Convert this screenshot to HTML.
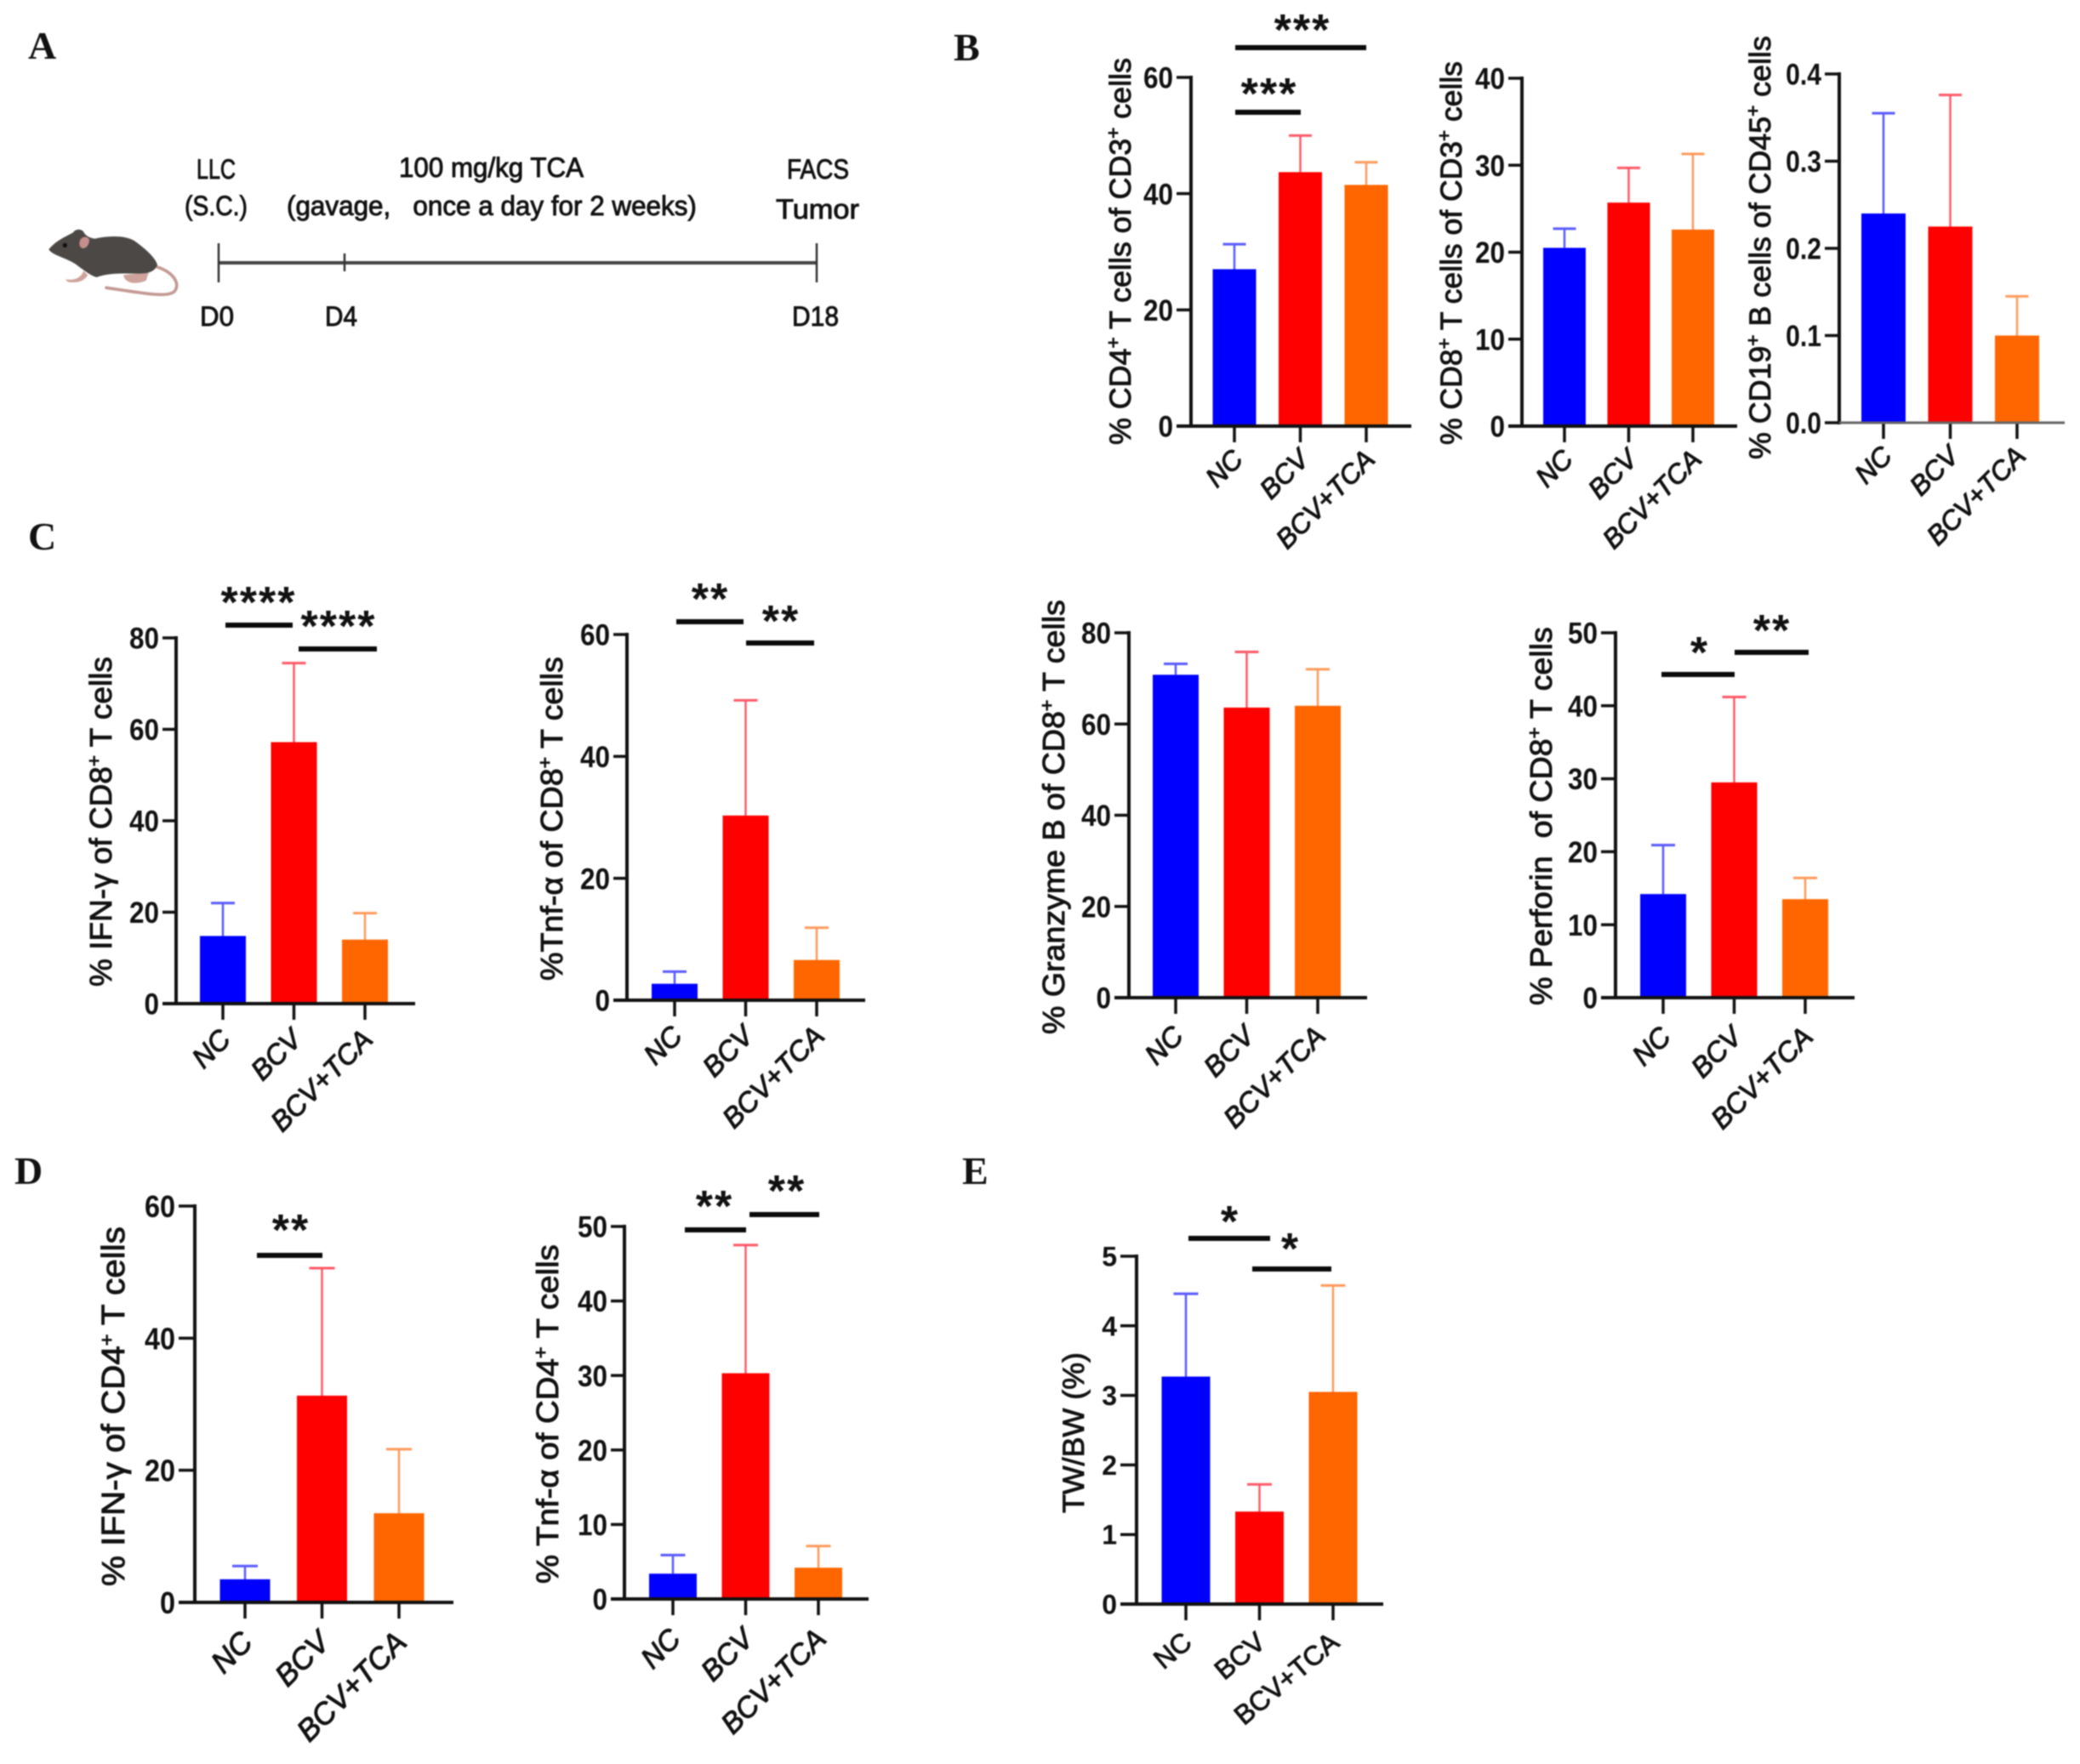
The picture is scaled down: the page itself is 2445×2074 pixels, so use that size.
<!DOCTYPE html>
<html lang="en">
<head>
<meta charset="utf-8">
<title>TCA treatment figure</title>
<style>
html,body{margin:0;padding:0;background:#fff;width:2445px;height:2074px;overflow:hidden}
svg{display:block;filter:blur(0.9px)}
text{font-family:"Liberation Sans",sans-serif;fill:#111;white-space:pre}
.letter{font-family:"Liberation Serif",serif;font-weight:700;font-size:46px}
.tl{font-size:32px;stroke:#111;stroke-width:.9px}
.tick{font-weight:700}
.ttl{stroke:#111;stroke-width:.9px}
.xl{font-style:italic;stroke:#111;stroke-width:1px}
.xlu{stroke:#111;stroke-width:.9px}
.star{font-weight:700;font-size:52px;letter-spacing:2px}
</style>
</head>
<body>
<svg id="fig" xmlns="http://www.w3.org/2000/svg" width="2445" height="2074" viewBox="0 0 2445 2074">
  <rect width="2445" height="2074" fill="#fff"/>
  <text class="letter" x="33" y="69">A</text>
  <text class="letter" x="1121" y="71">B</text>
  <text class="letter" x="33" y="646">C</text>
  <text class="letter" x="17" y="1392">D</text>
  <text class="letter" x="1131" y="1392">E</text>

  <g id="panel-a">
    <g transform="translate(30,240) scale(0.3333)">
      <path d="M465,222 C520,240 548,280 525,308 C500,332 400,312 285,295" fill="none" stroke="#c49a94" stroke-width="11" stroke-linecap="round"/>
      <path d="M205,235 C195,262 170,270 140,265 L150,275 C180,278 205,275 220,250 Z" fill="#cfa39b"/>
      <path d="M345,250 C350,280 390,285 425,270 L435,240 Z" fill="#cfa39b"/>
      <path d="M82,160 C105,130 140,115 168,100 C175,88 195,85 205,98 C210,110 225,120 245,122 C290,112 350,108 385,130 C420,155 460,190 465,215 C455,240 430,245 400,245 C350,245 300,240 250,258 C225,250 210,235 190,222 C155,190 100,185 82,160 Z" fill="#4b4846"/>
      <path d="M192,128 C200,112 218,112 225,125 C225,145 212,160 198,155 C190,150 188,140 192,128 Z" fill="#c48e8b"/>
      <circle cx="139" cy="145" r="8" fill="#111"/>
    </g>
    <text class="tl" id="a-llc" x="231" y="210" data-w="46">LLC</text>
    <text class="tl" id="a-sc" x="217" y="253" data-w="74">(S.C.)</text>
    <text class="tl" id="a-dose" x="469" y="208" data-w="217">100 mg/kg TCA</text>
    <text class="tl" id="a-gav" x="337" y="253" data-w="482">(gavage,   once a day for 2 weeks)</text>
    <text class="tl" id="a-facs" x="925" y="210" data-w="73">FACS</text>
    <text class="tl" id="a-tumor" x="912" y="257" data-w="98">Tumor</text>
    <text class="tl" id="a-d0" x="235" y="383" data-w="40">D0</text>
    <text class="tl" id="a-d4" x="382" y="383" data-w="38">D4</text>
    <text class="tl" id="a-d18" x="931" y="383" data-w="55">D18</text>
    <line x1="257" y1="309" x2="960" y2="309" stroke="#444" stroke-width="4"/>
    <line x1="257" y1="286" x2="257" y2="332" stroke="#333" stroke-width="2.5"/>
    <line x1="405" y1="298" x2="405" y2="319" stroke="#333" stroke-width="2.5"/>
    <line x1="960" y1="286" x2="960" y2="332" stroke="#333" stroke-width="2.5"/>
  </g>
</svg>
<script>
const categories = ['NC', 'BCV', 'BCV+TCA'];
const barColors = ['#0000ff', '#ff0000', '#ff6600'];
const errColors = ['#5a5aff', '#ff5a68', '#ff9a5c'];

const cd4Means = [27, 43.7, 41.5];
const cd4Tops = [31.3, 50, 45.4];
const cd4Ticks = ['0', '20', '40', '60'];

const cd8Means = [20.5, 25.7, 22.6];
const cd8Tops = [22.7, 29.7, 31.3];
const cd8Ticks = ['0', '10', '20', '30', '40'];

const cd19Means = [0.24, 0.225, 0.1];
const cd19Tops = [0.355, 0.376, 0.145];
const cd19Ticks = ['0.0', '0.1', '0.2', '0.3', '0.4'];

const ifnCd8Means = [14.8, 57.2, 14];
const ifnCd8Tops = [22, 74.5, 19.8];
const ifnCd8Ticks = ['0', '20', '40', '60', '80'];

const tnfCd8Means = [2.7, 30.3, 6.6];
const tnfCd8Tops = [4.7, 49.2, 11.9];
const tnfCd8Ticks = ['0', '20', '40', '60'];

const gzmbMeans = [70.8, 63.6, 64];
const gzmbTops = [73.2, 75.8, 72];
const gzmbTicks = ['0', '20', '40', '60', '80'];

const prfMeans = [14.2, 29.5, 13.5];
const prfTops = [20.9, 41.2, 16.4];
const prfTicks = ['0', '10', '20', '30', '40', '50'];

const ifnCd4Means = [3.5, 31.3, 13.5];
const ifnCd4Tops = [5.5, 50.6, 23.2];
const ifnCd4Ticks = ['0', '20', '40', '60'];

const tnfCd4Means = [3.4, 30.3, 4.2];
const tnfCd4Tops = [5.9, 47.5, 7.1];
const tnfCd4Ticks = ['0', '10', '20', '30', '40', '50'];

const twbwMeans = [3.27, 1.33, 3.05];
const twbwTops = [4.46, 1.72, 4.58];
const twbwTicks = ['0', '1', '2', '3', '4', '5'];

const NS = 'http://www.w3.org/2000/svg';
const fig = document.getElementById('fig');

function mk(tag, parent, attrs) {
  const el = document.createElementNS(NS, tag);
  for (const k in attrs) el.setAttribute(k, attrs[k]);
  parent.appendChild(el);
  return el;
}

function fitWidth(t, x, y, rot, target) {
  const len = t.getComputedTextLength();
  const sx = target / len;
  t.setAttribute('transform', 'translate(' + x + ',' + y + ') rotate(' + rot + ') scale(' + sx + ',1)');
}

function fillRich(t, s) {
  const parts = s.split('^');
  parts.forEach(function (p, i) {
    const sp = mk('tspan', t, {});
    if (i % 2 === 1) {
      sp.setAttribute('dy', '-13');
      sp.setAttribute('font-size', '22');
    } else if (i > 0) {
      sp.setAttribute('dy', '13');
    }
    sp.textContent = p;
  });
}

const charts = [
  {id: 'cd4-of-cd3', title: '% CD4^+^ T cells of CD3^+^ cells', tx: 1329, tfs: 35, tTop: 68, tBot: 523, ax: 1400, top: 91, zero: 501, xa: 1383, xb: 1659, x0: 1451, step: 77.5, w: 51, capW: 27,
   ldx: 12, ldy: 41, lfs: 32, tkfs: 35, tsx: .9, xw: 4, xc: '#111',
   means: cd4Means, tops: cd4Tops, ticks: cd4Ticks,
   sig: [[1452, 1606, 56], [1452, 1529, 132]], stars: [['***', 1531, 30], ['***', 1492, 105]]},
  {id: 'cd8-of-cd3', title: '% CD8^+^ T cells of CD3^+^ cells', tx: 1718, tfs: 35, tTop: 72, tBot: 523, ax: 1789, top: 92, zero: 501, xa: 1773, xb: 2042, x0: 1839, step: 75.5, w: 50, capW: 27,
   ldx: 12, ldy: 41, lfs: 32, tkfs: 35, tsx: .9, xw: 4, xc: '#111',
   means: cd8Means, tops: cd8Tops, ticks: cd8Ticks, sig: [], stars: []},
  {id: 'cd19-of-cd45', title: '% CD19^+^ B cells of CD45^+^ cells', tx: 2081, tfs: 35, tTop: 42, tBot: 540, ax: 2162, top: 87, zero: 497, xa: 2145, xb: 2427, x0: 2214, step: 78.5, w: 52, capW: 27,
   ldx: 12, ldy: 41, lfs: 32, tkfs: 35, tsx: .86, xw: 3, xc: '#666',
   means: cd19Means, tops: cd19Tops, ticks: cd19Ticks, sig: [], stars: []},
  {id: 'ifn-of-cd8', title: '% IFN-γ of CD8^+^ T cells', tx: 131, tfs: 36, tTop: 772, tBot: 1160, ax: 207, top: 750, zero: 1180, xa: 191, xb: 488, x0: 262, step: 83.5, w: 54, capW: 28,
   ldx: 11, ldy: 44, lfs: 33, tkfs: 35, tsx: .9, xw: 4, xc: '#111',
   means: ifnCd8Means, tops: ifnCd8Tops, ticks: ifnCd8Ticks,
   sig: [[265, 344, 735], [351, 443, 763]], stars: [['****', 304, 703], ['****', 398, 731]]},
  {id: 'tnf-of-cd8', title: '%Tnf-α of CD8^+^ T cells', tx: 661, tfs: 36, tTop: 772, tBot: 1153, ax: 737, top: 746, zero: 1176, xa: 721, xb: 1017, x0: 793, step: 83.5, w: 54, capW: 28,
   ldx: 11, ldy: 44, lfs: 33, tkfs: 35, tsx: .9, xw: 4, xc: '#111',
   means: tnfCd8Means, tops: tnfCd8Tops, ticks: tnfCd8Ticks,
   sig: [[795, 874, 731], [877, 957, 756]], stars: [['**', 835, 699], ['**', 918, 725]]},
  {id: 'granzyme-b', title: '% Granzyme B of CD8^+^ T cells', tx: 1251, tfs: 36, tTop: 705, tBot: 1216, ax: 1327, top: 744, zero: 1173, xa: 1310, xb: 1607, x0: 1382, step: 83.5, w: 54, capW: 28,
   ldx: 11, ldy: 47, lfs: 33, tkfs: 35, tsx: .9, xw: 4, xc: '#111',
   means: gzmbMeans, tops: gzmbTops, ticks: gzmbTicks, sig: [], stars: []},
  {id: 'perforin', title: '% Perforin  of CD8^+^ T cells', tx: 1824, tfs: 36, tTop: 737, tBot: 1182, ax: 1899, top: 744, zero: 1173, xa: 1882, xb: 2180, x0: 1955, step: 83.5, w: 54, capW: 28,
   ldx: 11, ldy: 48, lfs: 33, tkfs: 35, tsx: .9, xw: 4, xc: '#111',
   means: prfMeans, tops: prfTops, ticks: prfTicks,
   sig: [[1953, 2039, 793], [2039, 2126, 767]], stars: [['*', 1998, 762], ['**', 2083, 736]]},
  {id: 'ifn-of-cd4', title: '% IFN-γ of CD4^+^ T cells', tx: 146, tfs: 38, tTop: 1442, tBot: 1865, ax: 229, top: 1418, zero: 1884, xa: 210, xb: 533, x0: 288, step: 90.5, w: 59, capW: 30,
   ldx: 11, ldy: 49, lfs: 35.5, tkfs: 36, tsx: .9, xw: 4, xc: '#111',
   means: ifnCd4Means, tops: ifnCd4Tops, ticks: ifnCd4Ticks,
   sig: [[302, 379, 1476]], stars: [['**', 342, 1441]]},
  {id: 'tnf-of-cd4', title: '% Tnf-α of CD4^+^ T cells', tx: 656, tfs: 36, tTop: 1463, tBot: 1862, ax: 734, top: 1442, zero: 1880, xa: 718, xb: 1021, x0: 791, step: 85.5, w: 56, capW: 29,
   ldx: 11, ldy: 49, lfs: 34, tkfs: 35, tsx: .9, xw: 4, xc: '#111',
   means: tnfCd4Means, tops: tnfCd4Tops, ticks: tnfCd4Ticks,
   sig: [[805, 877, 1446], [881, 963, 1428]], stars: [['**', 840, 1413], ['**', 925, 1395]]},
  {id: 'tw-bw', title: 'TW/BW (%)', tx: 1274, tfs: 35, tTop: 1590, tBot: 1779, ax: 1336, top: 1477, zero: 1886, xa: 1317, xb: 1626, x0: 1394, step: 86.5, w: 57, capW: 29, upright: true,
   ldx: 9, ldy: 48, lfs: 32, tkfs: 32, tsx: 1, xw: 4, xc: '#111',
   means: twbwMeans, tops: twbwTops, ticks: twbwTicks,
   sig: [[1397, 1493, 1456], [1472, 1565, 1492]], stars: [['*', 1446, 1431], ['*', 1517, 1463]]}
];

function drawChart(c) {
  const max = parseFloat(c.ticks[c.ticks.length - 1]);
  const yScale = function (v) { return c.zero - (v / max) * (c.zero - c.top); };
  const xScale = function (i) { return c.x0 + i * c.step; };

  const g = mk('g', fig, {});
  
  

  c.means.forEach(function (m, i) {
    const cx = xScale(i);
    const stem = mk('line', g, {x1: cx, x2: cx, y1: yScale(m), y2: yScale(c.tops[i]), stroke: errColors[i], 'stroke-width': 2.5});
    
    
    const cap = mk('line', g, {x1: cx - c.capW / 2, x2: cx + c.capW / 2, y1: yScale(c.tops[i]), y2: yScale(c.tops[i]), stroke: errColors[i], 'stroke-width': 3});
    
    
    const bar = mk('rect', g, {x: cx - c.w / 2, y: yScale(m), width: c.w, height: c.zero - yScale(m), fill: barColors[i]});
    
    

    const tk = mk('line', g, {x1: cx, x2: cx, y1: c.zero, y2: c.zero + 19, stroke: '#111', 'stroke-width': 3.5});
    
    

    const lab = mk('text', g, {'class': c.upright ? 'xlu' : 'xl', 'text-anchor': 'end', 'font-size': c.lfs});
    lab.textContent = categories[i];
    
    
    lab.setAttribute('transform', 'translate(' + (cx + c.ldx) + ',' + (c.zero + c.ldy) + ') rotate(' + (c.upright ? -40 : -45) + ')');
  });

  const ya = mk('line', g, {x1: c.ax, x2: c.ax, y1: c.top - 2, y2: c.zero + 2, stroke: '#111', 'stroke-width': 4});
  
  
  const xa = mk('line', g, {x1: c.xa, x2: c.xb, y1: c.zero, y2: c.zero, stroke: c.xc, 'stroke-width': c.xw});
  
  

  c.ticks.forEach(function (t) {
    const y = yScale(parseFloat(t));
    const tk = mk('line', g, {x1: c.xa, x2: c.ax, y1: y, y2: y, stroke: '#111', 'stroke-width': 3.5});
    
    
    const lab = mk('text', g, {'class': 'tick', 'text-anchor': 'end', 'font-size': c.tkfs, transform: 'translate(' + (c.xa - 4) + ',' + (y + c.tkfs * 0.36) + ') scale(' + c.tsx + ',1)'});
    lab.textContent = t;
    
    
  });

  const title = mk('text', g, {'class': 'ttl', 'font-size': c.tfs});
  fillRich(title, c.title);
  
  
  fitWidth(title, c.tx, c.tBot, -90, c.tBot - c.tTop);

  c.sig.forEach(function (s) {
    const l = mk('rect', g, {x: s[0], width: s[1] - s[0], y: s[2] - 3, height: 6, fill: '#0a0a0a'});
    
    
  });
  c.stars.forEach(function (s) {
    const st = mk('text', g, {'class': 'star', 'text-anchor': 'middle', x: s[1], y: s[2] + 23});
    st.textContent = s[0];
    
    
  });
}

charts.forEach(drawChart);

['a-llc', 'a-sc', 'a-dose', 'a-gav', 'a-facs', 'a-tumor', 'a-d0', 'a-d4', 'a-d18'].forEach(function (id) {
  const t = document.getElementById(id);
  const x = t.getAttribute('x');
  const y = t.getAttribute('y');
  const target = parseFloat(t.getAttribute('data-w'));
  t.setAttribute('x', 0);
  t.setAttribute('y', 0);
  fitWidth(t, x, y, 0, target);
});
</script>
</body>
</html>
